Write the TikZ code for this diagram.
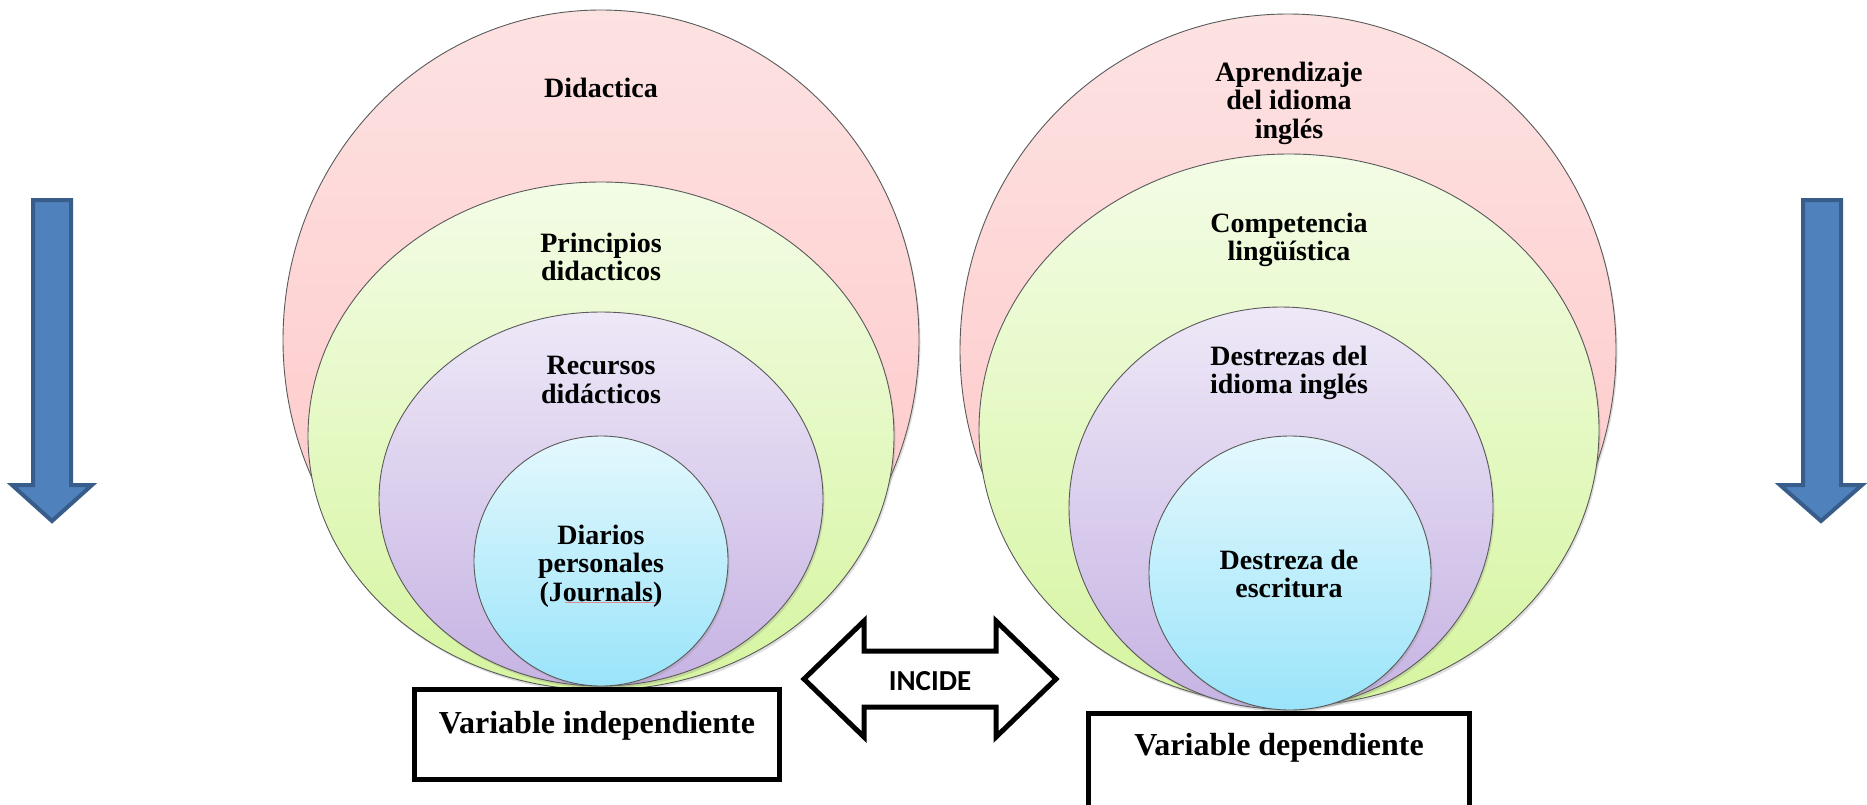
\documentclass[tikz,border=0pt]{standalone}
\usepackage{fontspec}
\setmainfont{Liberation Serif}
\newfontfamily\calibri{Carlito}
\usetikzlibrary{shapes.geometric,shadows}
\definecolor{pinkT}{HTML}{FDE2E2}
\definecolor{pinkB}{HTML}{FFC4C4}
\definecolor{greenT}{HTML}{F3FCE6}
\definecolor{greenB}{HTML}{D6F5A0}
\definecolor{purpT}{HTML}{EEE8F7}
\definecolor{purpB}{HTML}{C6B3E3}
\definecolor{cyanT}{HTML}{E4F8FD}
\definecolor{cyanB}{HTML}{9AE4FA}
\definecolor{arrowfill}{HTML}{4F81BD}
\definecolor{arrowline}{HTML}{385D8A}
\definecolor{ringline}{HTML}{5A5A5A}
\tikzset{
  ring/.style={ellipse, inner sep=0pt, draw=ringline, line width=0.9pt,
    drop shadow={opacity=0.25, shadow xshift=1.5pt, shadow yshift=-2.5pt}},
  ringtext/.style={align=center, font=\fontsize{28}{28.5}\selectfont\bfseries},
  varbox/.style={draw=black, line width=5pt, fill=white},
  vartext/.style={font=\fontsize{32}{34}\selectfont\bfseries, anchor=base},
  bluearrow/.style={fill=arrowfill, draw=arrowline, line width=4pt, line join=miter},
  incarrow/.style={draw=black, fill=white, line width=5pt, line join=miter}
}
\begin{document}
\begin{tikzpicture}[x=1pt,y=-1pt]
\useasboundingbox (0,0) rectangle (1867,804);
% left group
\node[ring, shade, top color=pinkT, bottom color=pinkB, minimum width=636pt, minimum height=660pt] (pinkL) at (601,340) {};
\node[ring, shade, top color=greenT, bottom color=greenB, minimum width=586pt, minimum height=508pt] (greenL) at (601,436) {};
\node[ring, shade, top color=purpT, bottom color=purpB, minimum width=444pt, minimum height=374pt] (purpL) at (601,499) {};
\node[ring, shade, top color=cyanT, bottom color=cyanB, minimum width=254pt, minimum height=250pt] (cyanL) at (601,561) {};
\node[ringtext] (tPinkL) at (601,88) {Didactica};
\node[ringtext] (tGreenL) at (601,257) {Principios\\didacticos};
\node[ringtext] (tPurpL) at (601,380) {Recursos\\didácticos};
\node[ringtext] (tCyanL) at (601,566) {Diarios\\personales\\(Journals)};
\draw[red!70, line width=0.6pt, opacity=0.6] (565,602) -- (656,602);
% right group
\node[ring, shade, top color=pinkT, bottom color=pinkB, minimum width=656pt, minimum height=672pt] (pinkR) at (1288,350) {};
\node[ring, shade, top color=greenT, bottom color=greenB, minimum width=620pt, minimum height=552pt] (greenR) at (1289,430) {};
\node[ring, shade, top color=purpT, bottom color=purpB, minimum width=424pt, minimum height=402pt] (purpR) at (1281,508) {};
\node[ring, shade, top color=cyanT, bottom color=cyanB, minimum width=282pt, minimum height=274pt] (cyanR) at (1290,573) {};
\node[ringtext] (tPinkR) at (1289,103) {Aprendizaje\\del idioma\\inglés};
\node[ringtext] (tGreenR) at (1289,240) {Competencia\\lingüística};
\node[ringtext] (tPurpR) at (1289,373) {Destrezas del\\idioma inglés};
\node[ringtext] (tCyanR) at (1289,574) {Destreza de\\escritura};
% variable boxes
\draw[varbox] (414.5,689.5) rectangle (779.5,779.5);
\node[vartext] (varI) at (597,733) {Variable independiente};
\begin{scope}
\clip (0,0) rectangle (1867,804);
\draw[varbox] (1088.5,713.5) rectangle (1469.5,840);
\end{scope}
\node[vartext] (varD) at (1279,755) {Variable dependiente};
% INCIDE double arrow
\draw[incarrow] (804,679) -- (864,621) -- (864,651) -- (996,651) -- (996,621)
  -- (1056,679) -- (996,737) -- (996,707) -- (864,707) -- (864,737) -- cycle;
\node[font=\calibri\bfseries\fontsize{29}{31}\selectfont] (incide) at (930,681) {INCIDE};
% blue arrows
\draw[bluearrow] (33,200) -- (71,200) -- (71,485) -- (92,485) -- (52,521)
  -- (12,485) -- (33,485) -- cycle;
\draw[bluearrow] (1803,200) -- (1841,200) -- (1841,485) -- (1862,485) -- (1821,521)
  -- (1780,485) -- (1803,485) -- cycle;
\end{tikzpicture}
\end{document}
